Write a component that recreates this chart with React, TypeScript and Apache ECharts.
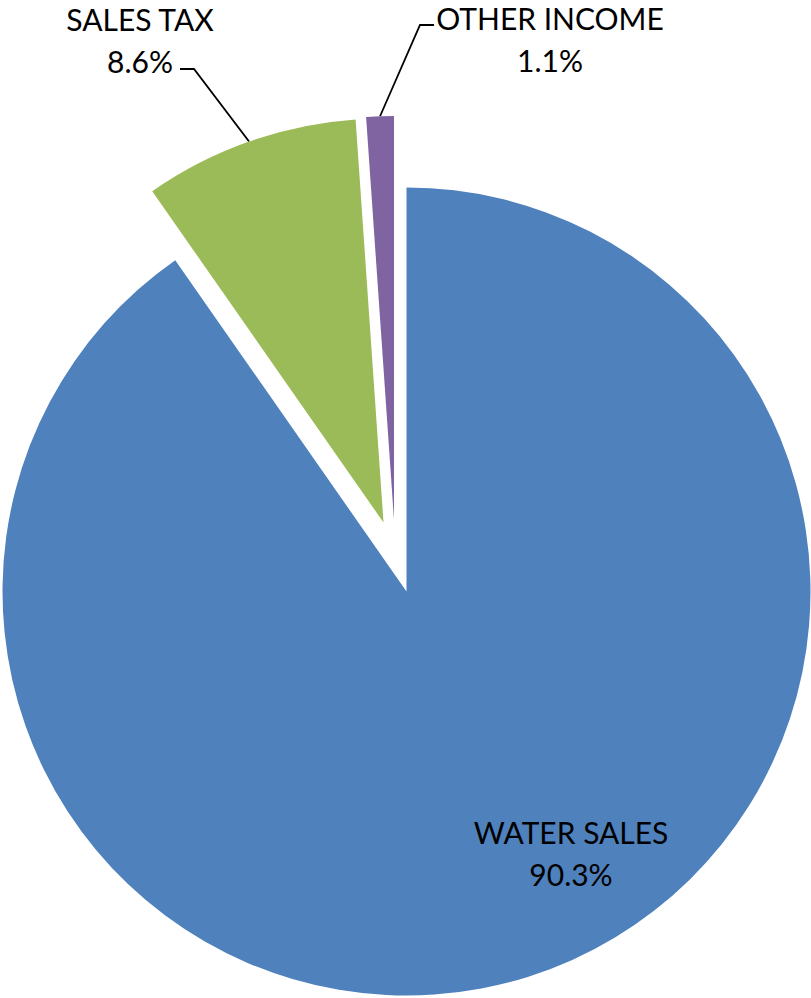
import React, { useEffect, useRef } from "react";
import * as echarts from "echarts";

const categories = ["WATER SALES", "SALES TAX", "OTHER INCOME"];
const shares = [90.3, 8.6, 1.1];
const colors = ["#4F81BD", "#9BBB59", "#8064A2"];

const W = 811;
const H = 998;
const RADIUS = 404;
// each slice drawn by its own pie series so that exploded slices keep their own centre
const centers: number[][] = [
  [406.5, 591.5],
  [383.5, 522.5],
  [394, 520],
];
const labelCenters: number[][] = [
  [571, 853],
  [140, 40],
  [550, 39],
];
const labelElbows: (number[][] | null)[] = [
  null,
  [
    [194, 69],
    [180, 69],
  ],
  [
    [420, 25],
    [434, 25],
  ],
];

const FONT = "Lato, 'Open Sans', sans-serif";

export default function App() {
  const ref = useRef<HTMLDivElement>(null);

  useEffect(() => {
    if (!ref.current) return;
    const chart = echarts.init(ref.current, undefined, { renderer: "svg" });

    const series = categories.map((_, i) => ({
      type: "pie",
      silent: true,
      startAngle: 90,
      clockwise: true,
      radius: [0, RADIUS],
      center: centers[i],
      avoidLabelOverlap: false,
      emphasis: { disabled: true },
      label: {
        show: false,
        position: i === 0 ? "inside" : "outside",
        fontFamily: FONT,
        fontSize: 30,
        lineHeight: 42,
        color: "#000",
        align: "center",
        formatter: (p: any) => `${p.name}\n${Number(p.value).toFixed(1)}%`,
      },
      labelLine: {
        show: false,
        smooth: false,
        lineStyle: { color: "#000", width: 1.8 },
      },
      labelLayout: (params: any) => {
        if (params.dataIndex !== i) return {};
        const out: any = {
          x: labelCenters[i][0],
          y: labelCenters[i][1],
          align: "center",
          verticalAlign: "middle",
        };
        const elbow = labelElbows[i];
        if (elbow) {
          let start = params.labelLinePoints && params.labelLinePoints[0];
          if (!start) {
            let before = 0;
            for (let k = 0; k < i; k++) before += shares[k];
            const total = shares.reduce((a, b) => a + b, 0);
            const mid = ((before + shares[i] / 2) / total) * Math.PI * 2;
            start = [
              centers[i][0] + Math.sin(mid) * RADIUS,
              centers[i][1] - Math.cos(mid) * RADIUS,
            ];
          }
          out.labelLinePoints = [start, elbow[0], elbow[1]];
        }
        return out;
      },
      data: categories.map((name, j) => ({
        name,
        value: shares[j],
        itemStyle: { color: j === i ? colors[j] : "rgba(0,0,0,0)" },
        label: { show: j === i },
        labelLine: { show: j === i && i !== 0 },
      })),
    }));

    chart.setOption({
      animation: false,
      backgroundColor: "#ffffff",
      series,
    } as any);

    return () => chart.dispose();
  }, []);

  return (
    <div
      ref={ref}
      style={{ position: "fixed", left: 0, top: 0, width: W, height: H, background: "#fff" }}
    />
  );
}
